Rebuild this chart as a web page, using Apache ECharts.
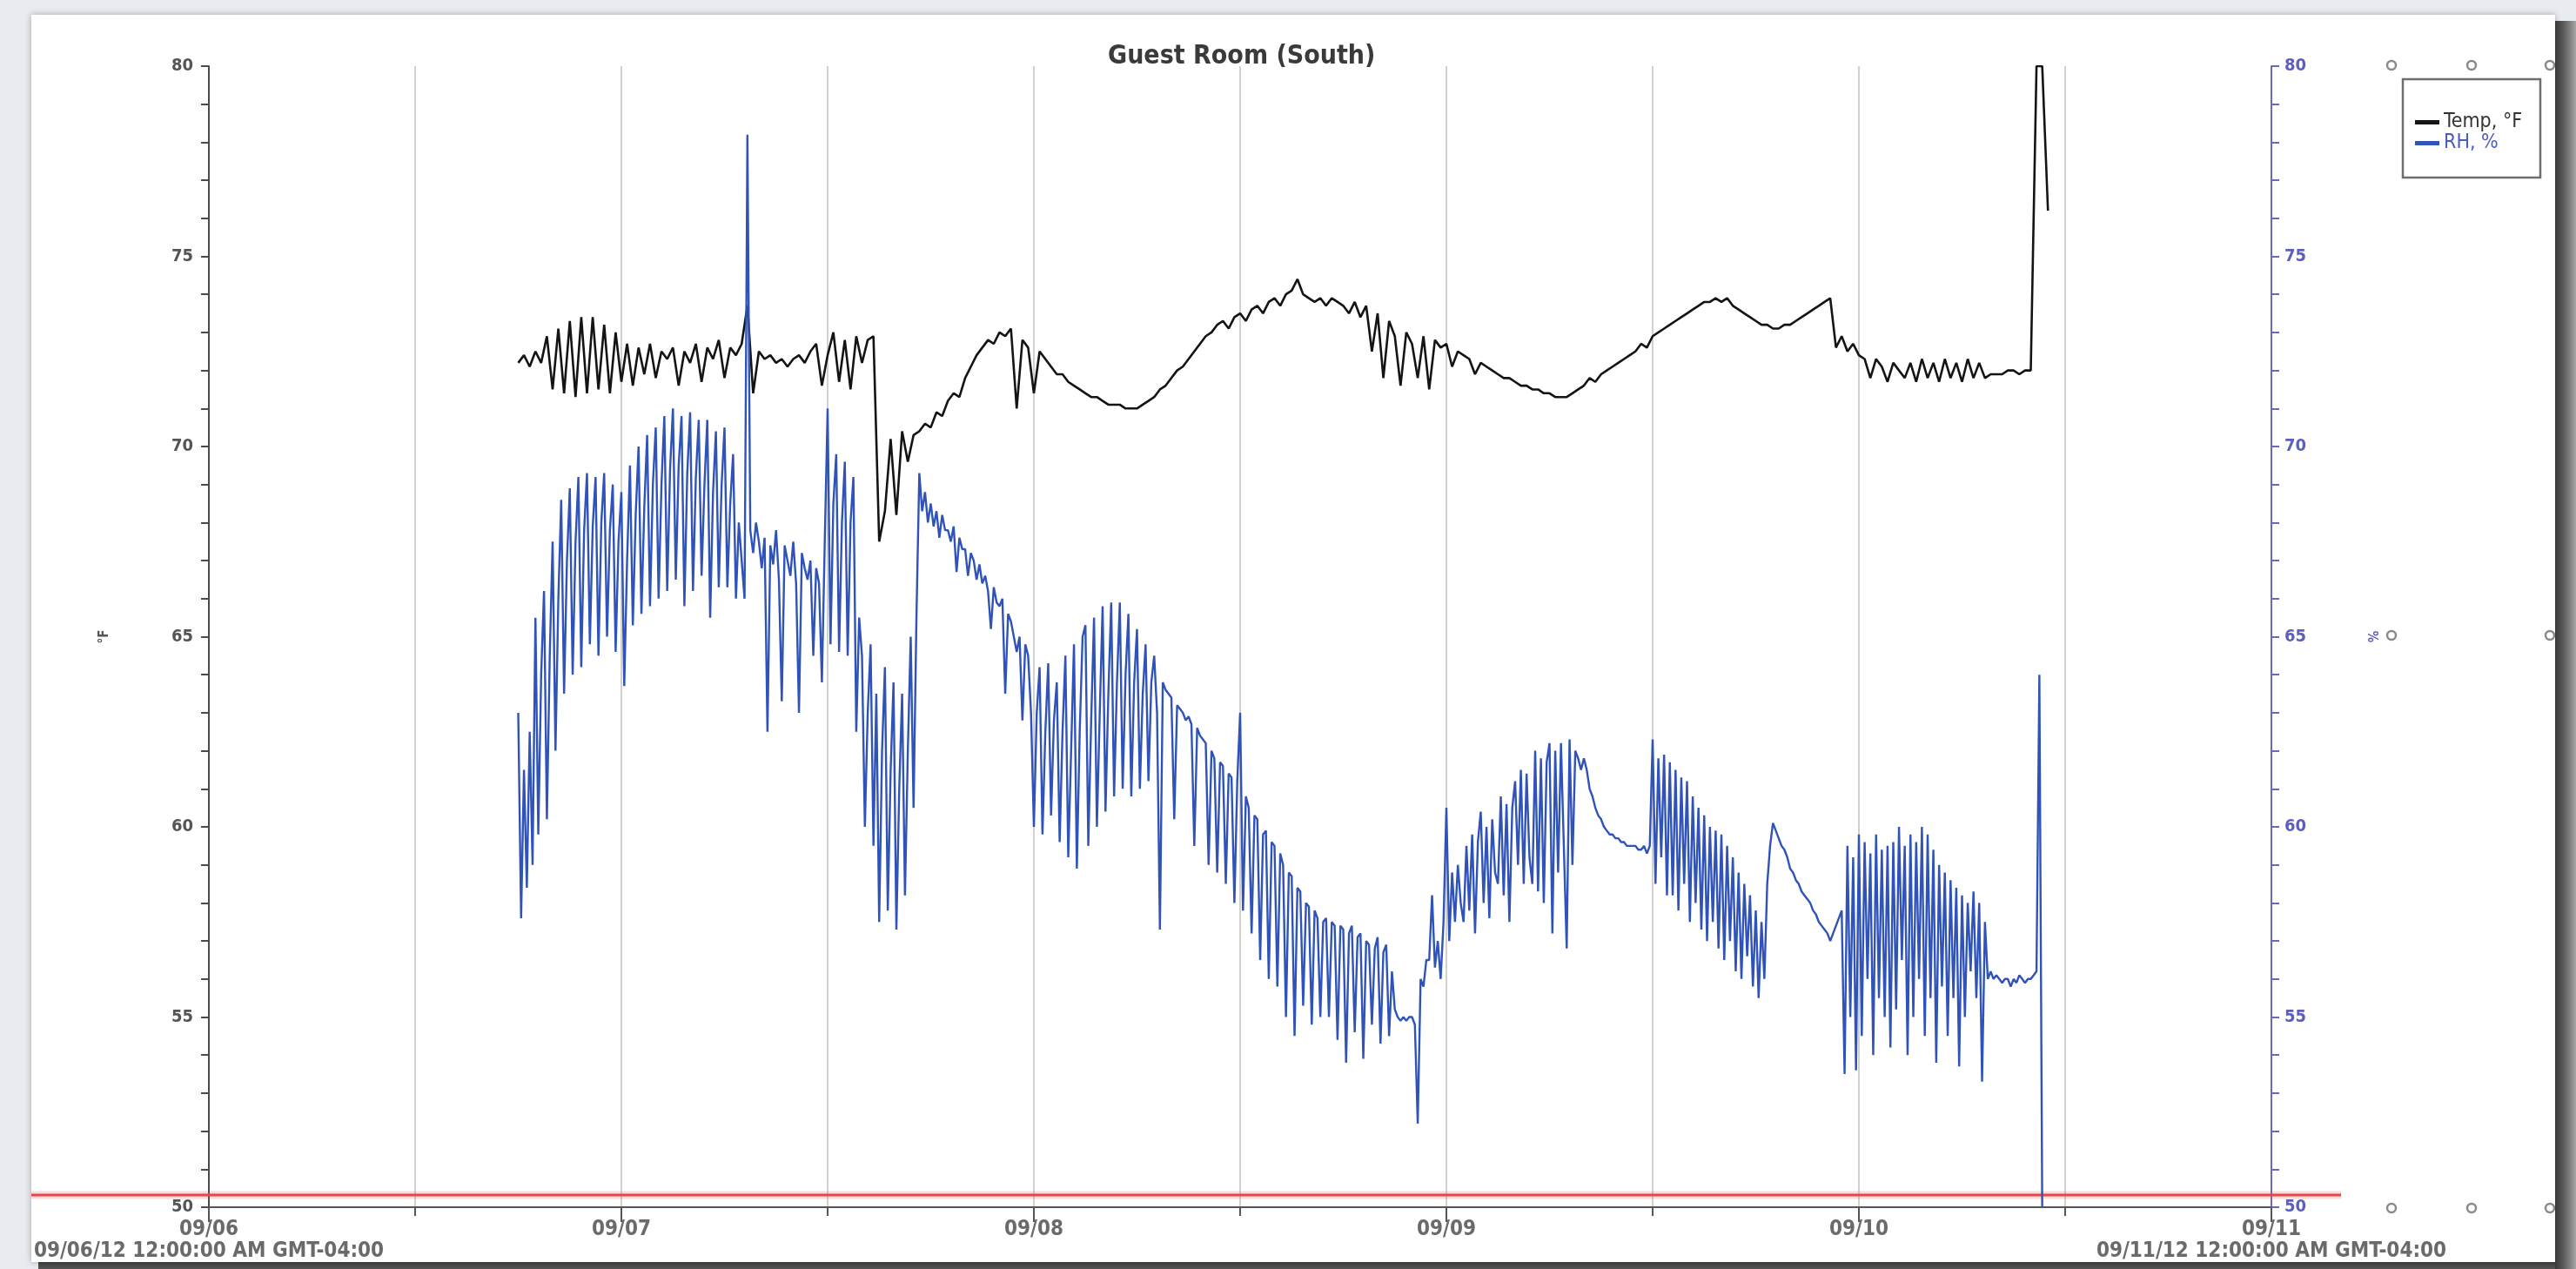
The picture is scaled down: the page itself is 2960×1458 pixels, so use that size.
<!DOCTYPE html>
<html>
<head>
<meta charset="utf-8">
<title>Guest Room (South)</title>
<script src="https://cdn.jsdelivr.net/npm/echarts/dist/echarts.min.js"></script>
<style>
  html, body { margin: 0; padding: 0; width: 2960px; height: 1458px; overflow: hidden; background: #e8ebef; }
  #card {
    position: absolute; left: 36px; top: 17px; width: 2900px; height: 1433px; background: #ffffff;
    box-shadow: 0 0 7px rgba(0,0,0,0.3);
  }
  #chart { position: absolute; left: 0; top: 0; width: 2960px; height: 1458px; z-index: 1; }
  .shade { position: absolute; z-index: 2; }
  #shadeRight { left: 2936px; top: 24px; width: 24px; height: 1434px;
    background: linear-gradient(to right, #383838 0%, #5a5a5a 40%, #a6a6a6 100%); }
  #shadeBottom { left: 44px; top: 1450px; width: 2892px; height: 8px;
    background: linear-gradient(to bottom, #3a3a3a, #565656); }
</style>
</head>
<body>
<div id="card"></div>
<div id="chart"></div>
<div id="shadeRight" class="shade"></div>
<div id="shadeBottom" class="shade"></div>
<script>
// X positions are hours since 09/06/12 12:00:00 AM; both logs start at 09/06 18:00.
const START_HOUR = 18;
const TEMP_STEP_HOURS = 1 / 3;   // temperature: one reading every 20 minutes
const RH_STEP_HOURS = 1 / 6;     // humidity: one reading every 10 minutes

// Temperature, °F (three readings per hour)
const tempF = [
  // 09/06 18:00 - 23:40
  72.2, 72.4, 72.1,  72.5, 72.2, 72.9,  71.5, 73.1, 71.4,  73.3, 71.3, 73.4,  71.4, 73.4, 71.5,  73.2, 71.4, 73.0,
  // 09/07
  71.7, 72.7, 71.6,  72.6, 71.9, 72.7,  71.8, 72.5, 72.3,  72.6, 71.6, 72.5,  72.2, 72.7, 71.7,  72.6, 72.3, 72.8,
  71.8, 72.6, 72.4,  72.7, 73.7, 71.4,  72.5, 72.3, 72.4,  72.2, 72.3, 72.1,  72.3, 72.4, 72.2,  72.5, 72.7, 71.6,
  72.4, 73.0, 71.7,  72.8, 71.5, 72.9,  72.2, 72.8, 72.9,  67.5, 68.3, 70.2,  68.2, 70.4, 69.6,  70.3, 70.4, 70.6,
  70.5, 70.9, 70.8,  71.2, 71.4, 71.3,  71.8, 72.1, 72.4,  72.6, 72.8, 72.7,  73.0, 72.9, 73.1,  71.0, 72.8, 72.6,
  // 09/08
  71.4, 72.5, 72.3,  72.1, 71.9, 71.9,  71.7, 71.6, 71.5,  71.4, 71.3, 71.3,  71.2, 71.1, 71.1,  71.1, 71.0, 71.0,
  71.0, 71.1, 71.2,  71.3, 71.5, 71.6,  71.8, 72.0, 72.1,  72.3, 72.5, 72.7,  72.9, 73.0, 73.2,  73.3, 73.1, 73.4,
  73.5, 73.3, 73.6,  73.7, 73.5, 73.8,  73.9, 73.7, 74.0,  74.1, 74.4, 74.0,  73.9, 73.8, 73.9,  73.7, 73.9, 73.8,
  73.7, 73.5, 73.8,  73.4, 73.7, 72.5,  73.5, 71.8, 73.3,  72.9, 71.6, 73.0,  72.7, 71.8, 72.9,  71.5, 72.8, 72.6,
  // 09/09
  72.7, 72.1, 72.5,  72.4, 72.3, 71.9,  72.2, 72.1, 72.0,  71.9, 71.8, 71.8,  71.7, 71.6, 71.6,  71.5, 71.5, 71.4,
  71.4, 71.3, 71.3,  71.3, 71.4, 71.5,  71.6, 71.8, 71.7,  71.9, 72.0, 72.1,  72.2, 72.3, 72.4,  72.5, 72.7, 72.6,
  72.9, 73.0, 73.1,  73.2, 73.3, 73.4,  73.5, 73.6, 73.7,  73.8, 73.8, 73.9,  73.8, 73.9, 73.7,  73.6, 73.5, 73.4,
  73.3, 73.2, 73.2,  73.1, 73.1, 73.2,  73.2, 73.3, 73.4,  73.5, 73.6, 73.7,  73.8, 73.9, 72.6,  72.9, 72.5, 72.7,
  // 09/10
  72.4, 72.3, 71.8,  72.3, 72.1, 71.7,  72.2, 72.0, 71.8,  72.2, 71.7, 72.3,  71.8, 72.2, 71.7,  72.3, 71.8, 72.2,
  71.7, 72.3, 71.8,  72.2, 71.8, 71.9,  71.9, 71.9, 72.0,  72.0, 71.9, 72.0,  72.0, 80.0, 80.0,  76.2
];

// Relative humidity, % (six readings per hour)
const rhPct = [
  // 09/06 18:00 - 23:50
  63.0, 57.6, 61.5, 58.4, 62.5, 59.0,   65.5, 59.8, 64.0, 66.2, 60.2, 64.5,
  67.5, 62.0, 66.0, 68.6, 63.5, 67.0,   68.9, 64.0, 67.5, 69.2, 64.2, 67.8,
  69.3, 64.8, 67.9, 69.2, 64.5, 68.0,   69.3, 65.0, 67.8, 69.0, 64.6, 67.5,
  // 09/07
  68.8, 63.7, 67.0, 69.5, 65.3, 68.2,   70.0, 65.6, 68.4, 70.3, 65.8, 69.0,
  70.5, 66.0, 69.0, 70.8, 66.2, 69.4,   71.0, 66.5, 69.5, 70.8, 65.8, 69.3,
  70.9, 66.2, 69.2, 70.7, 66.6, 69.0,   70.7, 65.5, 68.8, 70.4, 66.3, 69.0,
  70.5, 66.3, 68.5, 69.8, 66.0, 68.0,   67.0, 66.0, 78.2, 67.8, 67.2, 68.0,
  67.5, 66.8, 67.6, 62.5, 67.4, 66.9,   67.8, 66.5, 63.3, 67.4, 67.0, 66.6,
  67.5, 66.4, 63.0, 67.2, 66.8, 66.5,   67.0, 64.5, 66.8, 66.4, 63.8, 67.5,
  71.0, 64.8, 68.5, 69.8, 64.6, 68.0,   69.6, 64.5, 68.0, 69.2, 62.5, 65.5,
  64.5, 60.0, 63.0, 64.8, 59.5, 63.5,   57.5, 62.0, 64.2, 57.8, 61.5, 63.8,
  57.3, 61.0, 63.5, 58.2, 62.0, 65.0,   60.5, 65.5, 69.3, 68.3, 68.8, 68.0,
  68.5, 67.9, 68.3, 67.6, 68.2, 67.8,   67.8, 67.5, 67.9, 66.7, 67.6, 67.3,
  67.3, 66.6, 67.2, 67.0, 66.5, 66.9,   66.4, 66.6, 66.2, 65.2, 66.3, 65.9,
  65.8, 66.0, 63.5, 65.6, 65.4, 65.0,   64.6, 65.0, 62.8, 64.8, 64.5, 63.0,
  // 09/08
  60.0, 63.0, 64.2, 59.8, 62.5, 64.3,   60.3, 62.8, 63.8, 59.6, 62.5, 64.5,
  59.2, 62.0, 64.8, 58.9, 62.5, 65.0,   65.3, 59.5, 62.8, 65.5, 60.0, 63.0,
  65.8, 60.4, 63.5, 65.9, 60.8, 63.8,   65.9, 61.0, 64.0, 65.6, 60.8, 63.8,
  65.2, 61.0, 63.5, 64.8, 61.2, 63.8,   64.5, 63.0, 57.3, 63.8, 63.6, 63.5,
  63.4, 60.2, 63.2, 63.1, 63.0, 62.8,   62.9, 62.7, 59.5, 62.6, 62.4, 62.3,
  62.2, 59.0, 62.0, 61.8, 58.8, 61.7,   61.6, 58.5, 61.4, 61.3, 58.0, 61.2,
  63.0, 57.8, 60.8, 60.5, 57.2, 60.3,   60.2, 56.5, 59.8, 59.9, 56.0, 59.6,
  59.5, 55.8, 59.3, 59.0, 55.0, 58.8,   58.7, 54.5, 58.4, 58.3, 55.3, 58.0,
  57.9, 54.8, 57.8, 57.6, 55.0, 57.5,   57.6, 55.0, 57.5, 57.4, 54.4, 57.4,
  57.3, 53.8, 57.2, 57.4, 54.6, 57.1,   57.2, 53.9, 57.0, 56.9, 54.8, 56.8,
  57.1, 54.3, 56.7, 56.9, 54.5, 56.2,   55.2, 55.0, 54.9, 55.0, 54.9, 55.0,
  55.0, 54.8, 52.2, 56.0, 55.8, 56.5,   56.5, 58.2, 56.3, 57.0, 56.0, 57.5,
  // 09/09
  60.5, 57.0, 58.8, 57.5, 59.0, 58.0,   57.5, 59.5, 57.8, 59.8, 57.2, 59.6,
  60.4, 58.0, 60.0, 57.6, 60.2, 58.8,   58.5, 60.8, 58.2, 60.6, 57.5, 60.5,
  61.2, 59.0, 61.5, 58.5, 61.4, 59.2,   58.5, 62.0, 58.3, 61.8, 58.0, 61.7,
  62.2, 57.2, 62.0, 58.8, 62.2, 59.5,   56.8, 62.3, 59.0, 62.0, 61.8, 61.5,
  61.8, 61.5, 61.0, 60.8, 60.5, 60.3,   60.2, 60.0, 59.9, 59.8, 59.8, 59.7,
  59.7, 59.6, 59.6, 59.5, 59.5, 59.5,   59.5, 59.4, 59.4, 59.5, 59.3, 59.5,
  62.3, 58.5, 61.8, 59.2, 61.9, 58.2,   61.7, 58.2, 61.5, 57.8, 61.3, 58.5,
  61.2, 57.5, 60.8, 58.0, 60.5, 57.3,   60.3, 57.0, 60.0, 57.5, 59.9, 56.8,
  59.8, 56.5, 59.5, 57.0, 59.2, 56.2,   58.8, 56.0, 58.5, 56.6, 58.2, 55.8,
  57.8, 55.5, 57.5, 56.0, 58.5, 59.5,   60.1, 59.9, 59.7, 59.5, 59.4, 59.2,
  58.9, 58.8, 58.6, 58.5, 58.3, 58.2,   58.1, 58.0, 57.8, 57.7, 57.5, 57.4,
  57.3, 57.2, 57.0, 57.2, 57.4, 57.6,   57.8, 53.5, 59.5, 55.0, 59.2, 53.6,
  // 09/10
  59.8, 54.5, 59.6, 56.0, 59.3, 54.0,   59.8, 55.5, 59.4, 55.0, 59.5, 54.2,
  59.6, 55.2, 60.0, 56.5, 59.5, 54.0,   59.8, 55.0, 59.6, 56.0, 60.0, 54.5,
  59.8, 55.5, 59.4, 53.8, 59.0, 55.8,   58.8, 54.5, 58.6, 55.5, 58.4, 53.7,
  58.2, 55.0, 58.0, 56.2, 58.3, 55.5,   58.0, 53.3, 57.5, 56.0, 56.2, 56.0,
  56.1, 56.0, 55.9, 56.0, 56.0, 55.8,   56.0, 55.9, 56.1, 56.0, 55.9, 56.0,
  56.0, 56.1, 56.2, 64.0, 50.0
];

// Axis labels
const dayLabels = ['09/06', '09/07', '09/08', '09/09', '09/10', '09/11'];
const rangeLabels = { 0: '09/06/12 12:00:00 AM GMT-04:00', 120: '09/11/12 12:00:00 AM GMT-04:00' };
const seriesNames = ['Temp, °F', 'RH, %'];

const FONT = '"DejaVu Sans Condensed", "DejaVu Sans", sans-serif';
const AXIS_GREY = '#4a4a4a';
const AXIS_BLUE = '#6a6abd';
const TEMP_BLACK = '#141414';
const RH_BLUE = '#2f53b8';

const toPoints = (vals, step) => vals.map((v, i) => [START_HOUR + i * step, v]);

function dayLabel(v) {
  const d = dayLabels[v / 24];
  if (d === undefined) return '';
  return rangeLabels[v] ? d + '\n' + rangeLabels[v] : d;
}

function valueAxis(side, color, labelColor, name) {
  return {
    type: 'value', position: side, min: 50, max: 80, interval: 5,
    name: name, nameLocation: 'middle', nameGap: 112,
    nameTextStyle: { fontFamily: FONT, fontSize: 15, fontWeight: 'bold', color: labelColor },
    axisLine: { show: true, lineStyle: { color: color, width: 2 } },
    axisTick: { show: true, length: 9, lineStyle: { color: color, width: 2 } },
    minorTick: { show: true, splitNumber: 5, length: 9, lineStyle: { color: color, width: 2 } },
    splitLine: { show: false },
    axisLabel: { margin: side === 'left' ? 18 : 15, fontFamily: FONT, fontSize: 20, fontWeight: 'bold', color: labelColor }
  };
}

// selection handles around the legend column
const handles = [[2748, 75], [2840, 75], [2930, 75], [2748, 730], [2930, 730], [2748, 1388], [2840, 1388], [2930, 1388]];

const chart = echarts.init(document.getElementById('chart'), null, { renderer: 'canvas' });
chart.setOption({
  animation: false,
  backgroundColor: 'transparent',
  title: {
    text: 'Guest Room (South)', left: 1268, top: 45,
    textStyle: { fontFamily: FONT, fontSize: 30, fontWeight: 'bold', color: '#3a3a3a' }
  },
  legend: {
    left: 2775, top: 129, orient: 'vertical', icon: 'rect', itemWidth: 28, itemHeight: 5, itemGap: 1,
    padding: 0, selectedMode: false,
    textStyle: { fontFamily: FONT, fontSize: 23, lineHeight: 23, color: '#333' },
    data: [
      { name: seriesNames[0], textStyle: { color: '#333' } },
      { name: seriesNames[1], textStyle: { color: '#4b5cbf' } }
    ]
  },
  grid: { left: 240, right: 350, top: 76, bottom: 71 },
  xAxis: {
    type: 'value', min: 0, max: 120, interval: 24,
    axisLine: { show: true, onZero: false, lineStyle: { color: '#555', width: 2 } },
    axisTick: { show: true, length: 17, lineStyle: { color: '#555', width: 2 } },
    minorTick: { show: true, splitNumber: 2, length: 10, lineStyle: { color: '#555', width: 2 } },
    splitLine: { show: true, lineStyle: { color: '#d3d0d0', width: 2 } },
    minorSplitLine: { show: true, lineStyle: { color: '#d3d0d0', width: 2 } },
    axisLabel: {
      margin: 13, fontFamily: FONT, fontSize: 24, lineHeight: 25, fontWeight: 'bold', color: '#6a6a6a',
      showMinLabel: true, showMaxLabel: true, hideOverlap: false, formatter: dayLabel
    }
  },
  yAxis: [
    valueAxis('left', AXIS_GREY, '#555', '°F'),
    valueAxis('right', AXIS_BLUE, '#5c5fc0', '%')
  ],
  series: [
    {
      name: seriesNames[0], type: 'line', yAxisIndex: 0, showSymbol: false, symbol: 'none',
      lineStyle: { color: TEMP_BLACK, width: 2.6 }, itemStyle: { color: TEMP_BLACK },
      data: toPoints(tempF, TEMP_STEP_HOURS)
    },
    {
      name: seriesNames[1], type: 'line', yAxisIndex: 1, showSymbol: false, symbol: 'none',
      lineStyle: { color: RH_BLUE, width: 2.4 }, itemStyle: { color: RH_BLUE },
      data: toPoints(rhPct, RH_STEP_HOURS)
    }
  ],
  graphic: [
    // red reference stripe just above the time axis
    { type: 'line', shape: { x1: 36, y1: 1373, x2: 2690, y2: 1373 }, style: { stroke: 'rgba(230,90,90,0.22)', lineWidth: 9 }, z: 1 },
    { type: 'line', shape: { x1: 36, y1: 1373, x2: 2690, y2: 1373 }, style: { stroke: '#e3474a', lineWidth: 3 }, z: 2 },
    // legend frame
    { type: 'rect', shape: { x: 2761, y: 91, width: 158, height: 113 }, style: { fill: '#ffffff', stroke: '#6e6e6e', lineWidth: 2.5 }, z: 0 }
  ].concat(handles.map(([cx, cy]) => ({
    type: 'circle', shape: { cx: cx, cy: cy, r: 5 }, style: { fill: '#ffffff', stroke: '#8a8a8a', lineWidth: 2.5 }, z: 3
  })))
});
</script>
</body>
</html>
